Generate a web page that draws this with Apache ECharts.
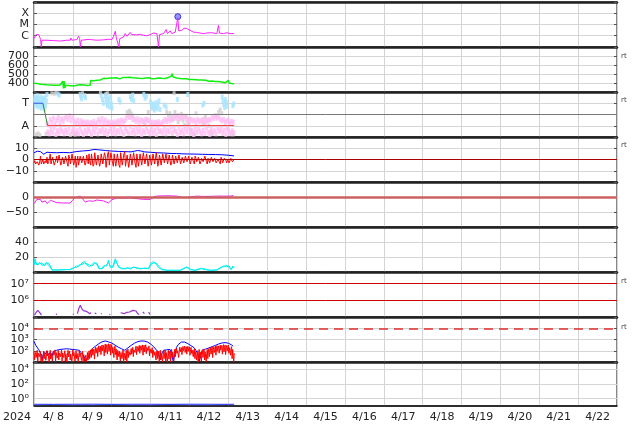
<!DOCTYPE html>
<html>
<head>
<meta charset="utf-8">
<script src="https://cdn.jsdelivr.net/npm/echarts@6/dist/echarts.min.js"></script>
<style>
html,body{margin:0;padding:0;background:#fff;}
#chart{width:634px;height:424px;}
</style>
</head>
<body>
<div id="chart"></div>
<script>
// ================= DATA (time = hours since 2024-04-08 00:00) =================
const yearLabel = '2024';
const dayLabels = ['4/ 8','4/ 9','4/10','4/11','4/12','4/13','4/14','4/15','4/16','4/17','4/18','4/19','4/20','4/21','4/22'];

// tick labels
const xrayTickLabels = {'-6':'C','-5':'M','-4':'X'};
const speedTickLabels = [400,500,600,700];
const sectorTickLabels = {'270':'T','90':'A'};
const bTickLabels = {'10':'10','0':'0','-10':'−10'};
const dstTickLabels = {'0':'0','-50':'−50'};
const densTickLabels = [20,40];
const electronTickExps = [6,7];
const protonTickExps = [2,3,4];
const lowTickExps = [0,2,4];
const supDigits = ['⁰','¹','²','³','⁴','⁵','⁶','⁷','⁸','⁹'];
const sideTags = ['rt','rt','rt','rt','rt'];

// panel 1: X-ray flux
const xrayT = [0,1.4,2.9,3.5,4.1,4.5,4.9,8.0,12.1,16.2,20.3,22.4,22.8,23.6,26.5,27.5,28.2,28.6,29.2,32.7,33.7,34.7,38.8,43.0,46.0,47.1,48.1,49.1,50.2,50.8,51.6,52.4,53.0,55.3,56.3,57.4,59.4,60.4,61.5,63.5,65.6,67.6,69.7,71.8,73.8,74.8,75.9,76.9,77.5,80.0,81.6,82.4,84.1,85.1,87.2,88.2,88.8,89.4,91.3,92.7,94.4,96.4,98.5,100.5,102.6,104.7,106.7,108.8,109.8,110.8,111.9,112.9,113.9,114.5,117.0,119.1,121.1,123.6];
const xrayF = [5.6e-7,1.26e-6,1.26e-6,7.7e-7,4.6e-7,1e-7,4.0e-7,4.0e-7,3.7e-7,3.4e-7,4.0e-7,4.0e-7,6.3e-7,4.0e-7,4.6e-7,8.9e-7,5.6e-7,1e-7,4.0e-7,4.6e-7,6.3e-7,4.6e-7,4.0e-7,4.3e-7,4.9e-7,6.8e-7,4.6e-7,8.9e-7,2.5e-6,6.8e-7,5.6e-7,1e-7,5.6e-7,7.7e-7,1.55e-6,8.9e-7,1.95e-6,1.26e-6,1.55e-6,1.2e-6,1.35e-6,1.1e-6,1.0e-6,1.26e-6,1.75e-6,1.26e-6,1.55e-6,1e-7,1.26e-6,1.55e-6,3.5e-6,1.55e-6,2.7e-6,1.55e-6,2.1e-6,3.0e-6,4.0e-5,2.7e-6,3.0e-6,4.7e-6,4.4e-6,3.0e-6,2.1e-6,1.95e-6,1.75e-6,1.55e-6,1.75e-6,1.85e-6,2.7e-6,1.75e-6,2.1e-6,1.55e-6,8.5e-6,1.75e-6,1.55e-6,1.85e-6,1.55e-6,1.55e-6];
const flareT = [88.8];
const flareF = [5.0e-5];

// panel 2: solar wind speed
const speedT = [0,1,2,3,4,5,6,7,8,9,10,11,12,13,14,15,16,17,17.8,18.2,18.6,19.0,19.4,20,21,22,23,24,25,26,27,28,29,30,31,31.7,32.2,33,34,34.7,35,36,37,38,39,40,41,42,43,44,45,46,47,48,49,50,51,52,53,54,55,56,57,58,59,60,61,62,63,64,65,66,67,68,69,70,71,72,73,74,75,76,77,78,79,80,81,82,83,84,85,85.4,85.8,86,87,88,89,90,91,92,93,94,95,96,97,98,99,100,101,102,103,104,105,106,107,108,109,110,111,112,113,114,115,116,117,118,119,120,120.5,121,122,123,123.6];
const speedV = [398,402,395,390,386,388,383,385,380,382,378,380,376,379,375,378,376,374,420,340,422,345,372,370,372,368,370,366,368,372,378,382,380,384,378,356,374,372,375,376,428,432,426,436,430,440,434,445,452,458,450,460,455,448,456,445,458,450,446,455,462,468,460,472,465,452,458,448,455,446,452,460,450,444,455,448,458,452,446,458,450,462,455,448,452,460,450,456,462,468,478,505,470,474,466,455,460,450,456,448,452,446,450,440,434,438,430,436,428,434,426,432,424,430,422,420,416,422,414,418,410,416,408,412,404,402,406,428,400,398,394,396,393];

// panel 3: IMF sector (angle, deg)
const sectorT = [0,5.5,8.4,123.6];
const sectorV = [270,270,92,92];
const towardPts = [[0.2,300],[0.5,320],[0.8,280],[1.1,250],[1.4,310],[1.7,265],[2.0,295],[2.3,330],[2.6,240],[2.9,285],[3.2,305],[3.5,255],[3.8,275],[4.1,320],[4.4,230],[4.7,290],[5.0,260],[5.3,310],[5.6,245],[5.9,300],[6.2,270],[6.5,225],[6.8,315],[7.1,250],[7.6,290],[8.0,340],[14.8,345],[15.6,335],[28.5,340],[29.0,320],[29.4,305],[31.2,330],[31.8,315],[41.5,330],[42.3,300],[42.8,270],[44.0,330],[44.5,300],[45.0,270],[45.4,250],[45.9,310],[46.3,285],[46.8,240],[47.3,320],[47.8,265],[48.2,230],[52.5,300],[53.2,280],[59.5,320],[60.2,300],[61.0,335],[61.6,290],[67.8,340],[68.6,310],[69.4,325],[72.0,280],[72.6,250],[73.2,230],[73.8,265],[74.3,215],[74.9,240],[75.5,275],[76.0,225],[76.6,255],[77.2,290],[77.8,220],[80.4,255],[81.6,240],[88.5,300],[95.0,340],[104.2,255],[105.0,270],[116.2,320],[116.7,290],[117.2,260],[117.7,235],[118.2,300],[118.7,275],[119.1,245],[122.8,250],[123.3,265]];
const awayHi = [110,95,140,120,150,105,135,155,115,145,125,150,165,140,170,130,160,125,110,135,100,130,115,120,105,120,95,115,110,125,100,118,140,120,148,115,135,110,120,95,118,105,122,112,130,115,135,120,128,150,172,155,165,140,140,125,145,118,138,130,120,142,128,135,115,120,105,118,110,122,100,115,125,140,125,148,130,138,150,165,150,172,145,160,155,168,140,138,120,142,128,135,115,140,125,132,118,145,122,130,140,135,158,145,165,150,160,140,130,140,115,128,135,110,125,118];
const awayLo = [40,25,60,35,75,20,50,30,65,45,25,55,35,70,20,45,60,30,50,25,70,40,20,55,30,65,45,20,60,35,75,25,50,40,65,30,55,20,45,70,30,60,25,50,35,75,40,20,65,45,30,80,35,55,25,70,40,60,20,50,35,75,45,25,60,30,55,20,70,40,50,30,65,25,55,40,80,30,60,45,20,70,35,55,25,65,40,75,30,50,20,60,35,70,45,25,55,30,75,40,20,65,35,50,25,70,45,60,30,55,20,65,40,25,50,35];
const awayStart = 8;
const grayPts = [[1.5,20],[2.5,30],[3.6,15],[7.5,25],[11,350],[12.5,345],[13.5,355],[24.5,25],[25.5,18],[26.5,30],[30,350],[41,352],[44.5,345],[45.5,350],[57.5,200],[58.5,180],[59,210],[60,190],[61,170],[67.5,120],[68.5,100],[69.5,140],[70.5,200],[82,200],[83,175],[84,190],[85,160],[86,140],[86.5,350],[87,200],[88,170],[89,120],[90,150],[91,185],[92,130],[93,95],[94,165],[95,110],[96,140],[97,60],[98,30],[99,20],[100,190],[104,140],[105,110],[106,160],[107,130],[108,90],[109,40],[110,25],[112,175],[114,200],[115,220],[116,190],[120,60],[122,35],[123,20]];

// panel 4: IMF Bt (blue) and Bz (red), nT
const btT = [0,2,4,6,8,10,14,18,22,26,30,34,37,40,44,48,52,56,60,62,64,66,68,72,76,80,84,88,92,96,100,104,108,112,116,120,123.5];
const btV = [5.9,7.4,7.0,4.7,6.5,6.2,6.0,6.3,6.0,7.0,7.6,8.0,8.9,8.6,8.0,7.5,7.2,7.0,6.8,7.4,8.0,7.6,6.8,6.4,6.0,5.8,5.4,5.3,5.0,4.9,4.8,4.6,4.5,4.4,4.2,3.8,3.2];
const bzHourly = [-3,-4,-2,-5,3,-3,-4,-1,2,-2, 5,-3,1,-4,3,-2,4,-3,0,-5, 2,-6,1,-3,4,-2,-7,3,-4,2, -2,4,-3,1,5,-5,6,-4,5,-6, 4,-3,6,-5,3,-6,7,-4,5,-6, 6,-5,4,-7,6,-4,7,-5,5,-6, 6,-4,5,-7,6,-5,4,-6,6,-3, 5,-5,4,-6,6,-4,5,-5,4,-6, 5,-4,6,-5,4,-3,5,-4,3,-4, 3,-3,2,-4,3,-2,2,-3,3,-4, 1,-3,2,-2,1,-3,2,-4,1,-2, 2,-3,0,-2,1,-4,0,-2,1,-3, 0,-2,1,-1];
const bzHalf = [-1,-5,-3,-2,-4,0,-5,-3,-4,1, -4,2,-5,0,-3,4,-5,2,-4,3, -3,4,-4,5,-5,3,-2,-5,3,-3, 3,-5,4,-4,-2,5,-6,6,-5,4, -6,5,-4,6,-7,5,-5,6,-3,5, -6,5,-5,6,-5,5,-6,4,-7,5, -5,6,-4,5,-6,5,-5,6,-4,5, -6,4,-5,5,-4,6,-6,4,-5,5, -3,5,-4,4,-5,4,-4,3,-3,4, -4,2,-3,3,-2,3,-4,2,-2,3, -2,2,-4,1,-2,3,-2,1,-3,2, -2,1,-3,0,-2,2,-3,1,-1,0, -3,1,-2,0];

// panel 5: Dst, nT
const dstT = [0,1.8,3.9,4.9,7.0,8.0,10.1,14.2,18.3,22.4,23.4,25.5,28.6,29.6,31.7,33.7,36.8,38.8,43.0,46.0,47.1,48.1,51.2,55,59.4,63,67.6,71.8,73.8,75.9,80,84.1,88.2,92.3,96.4,100.5,104,108.8,112.9,117,121.1,123.2];
const dstV = [-22,-8,-8,-17,-13,-22,-11,-19,-20,-20,-13,-2,3,0,-17,-13,-14,-10,-13,-20,-24,-9,-3,-4,-3,-5,-8,-8,0,3,4,4,3,-2,0,3,2,2,3,3,3,5];

// panel 6: density (two traces)
const densT = [0,0.6,1.4,2.2,3.5,4.9,6.4,7.6,9.0,10.1,11.1,13.1,16.2,19.3,22.4,24.5,26.1,27.5,29.6,31.1,32.7,34.3,35.8,37.2,38.8,40.3,41.9,43.4,45.0,46.0,47.1,48.7,50.2,51.2,52.2,54.3,56.3,57.8,59.4,61.5,63.1,65.6,68.7,70.7,72.2,73.8,75.5,76.9,78.9,82.0,86.1,90.3,92.3,94.4,96.4,99.4,101.3,103.4,105.7,108.8,112.9,115.0,117.0,119.1,120.5,121.7,122.8,123.6];
const densA = [11,17.8,12,9,13,9,10,13,9,11,3,2.5,3,3.5,3,5,8,7,12,14,9,7,10,13,10,4,5,9,8,16,6,8,17.8,12,6,5,4,6,4,7,5,5,4.5,5,12,14,10,6,3,2.5,2,2.5,5,6,3,2.5,4,4.5,3,2.5,2.5,6,7,9,6,3,8,6];
const densB = [9,14,10,12,11,12,8,11,12,8,2.5,3,2.5,3,3.5,6,6,9,10,12,11,9,8,11,12,5,4,7,10,13,8,6,15,14,8,4,5,5,5,6,6,4,5.5,4,10,12,12,8,4,2,2.5,2,4,7,4,2,3,5,4,2,3,5,8,7,8,4,6,7];

// panel 7: electron flux
const electronT = [0.3,1.2,2.4,3.2,4.0,4.6,5,13.5,14.2,15,24,24.5,25,26.8,27.8,28.6,29.5,30.5,31.5,32.3,33.3,34.3,35.3,36,37.5,38.5,39,41.3,41.8,43,46.6,47.1,48,53.5,54.6,56.0,57.3,59,60,61,62,63,64,65,66,67.2,68.2,69,70.8,71.6];
const electronV = [1.3e5,1.8e5,2.5e5,2.3e5,1.6e5,1.3e5,null,1.5e5,1.45e5,null,1.4e5,1.5e5,null,1.6e5,3.5e5,5e5,3.2e5,2.4e5,2.8e5,2.2e5,2.5e5,1.6e5,1.8e5,null,1.7e5,1.6e5,null,1.6e5,1.5e5,null,1.45e5,1.4e5,null,1.8e5,2.0e5,1.6e5,1.9e5,2.0e5,2.3e5,2.5e5,2.0e5,2.3e5,1.6e5,1.4e5,null,2.0e5,1.6e5,null,2.0e5,1.4e5];
const electronLevels = [1e6,1e7];

// panel 8: particle flux, blue and red (hourly; red sampled three times per hour)
const pBlue = [700,320,250,120,60,15,80,50,100,40, 70,30,90,60,110,80,130,100,140,120, 150,110,140,120,130,100,120,90,110,70, 60,30,12,10,40,80,150,200,260,330, 420,520,620,700,740,700,620,560,480,400, 320,260,210,170,150,130,110,130,180,240, 300,380,470,560,640,700,740,750,730,680, 600,500,400,300,220,150,100,40,15,60, 110,130,120,140,130,120,12,50,200,350, 500,600,620,590,520,430,350,280,230,180, 150,60,12,40,120,150,140,160,180,200, 230,260,300,350,400,450,490,520,530,510, 470,400,330,250];
const pRedHi = [90,70,110,60,85,40,95,75,100,65, 110,80,95,120,70,105,85,115,90,100, 80,110,95,70,120,85,100,75,110,60, 90,50,40,70,100, 120,160,140,210,190,280,250,330,300,400,360,420,380,350,300,260,200,160, 130,90,120,80,110,140,120, 160,200,180,260,230,300,280,330,310,340,300,270,220,190,150,120,100, 90,110,70,100,120,80,110,95,130,100, 140,170,150,210,190,240,260,230,250,220,200,170,150,120, 100,130,90,120,140,110,130, 160,190,230,210,260,290,270,320,300,350,330,300,320,270,230,180];
const pRedLo = [15,25,10,30,12,10,20,14,35,10, 18,12,40,10,22,15,30,10,25,12, 10,28,15,10,35,12,20,10,30,14, 10,12,10,15,20, 25,40,18,60,30,80,45,100,35,70,50,90,40,60,25,45,15,30, 12,20,10,15,10,25,40, 50,30,70,45,90,60,110,40,80,55,100,35,60,25,40,15,20, 10,15,10,20,12,10,18,10,25,12, 30,60,25,80,45,100,70,50,90,40,60,30,20,15, 10,20,12,25,15,10,20, 30,50,25,70,40,90,60,110,50,80,45,100,60,40,20,10];
const pRedMid = [45,35,60,25,50,20,55,30,60,35, 60,40,55,70,35,60,45,65,50,55, 40,60,50,35,70,45,55,40,60,30, 45,25,20,35,55, 70,90,80,120,110,160,140,190,170,230,200,240,220,200,170,150,110,90, 70,50,65,45,60,80,70, 90,120,100,150,130,170,160,190,180,200,170,150,120,110,80,65,55, 50,60,40,55,70,45,60,50,75,55, 80,100,85,120,110,140,150,130,145,125,115,95,85,65, 55,75,50,70,80,60,75, 90,110,130,120,150,170,160,190,175,200,190,175,185,150,130,60];
const protonLevel = [1e4];

// panel 9: low flux
const lowT = [0,12,24,36,48,60,72,84,96,108,120,123.6];
const lowV = [0.15,0.16,0.15,0.15,0.16,0.15,0.15,0.16,0.15,0.15,0.16,0.15];
const lowV2 = [0.19,0.18,0.19,0.2,0.18,0.19,0.19,0.18,0.2,0.19,0.18,0.19];

// ================= CHART =================
const FONT = 'DejaVu Sans';
const TXT = '#222';
const GRIDC = '#d4d4d4';
const L = 34, R = 17;
const tops = [2,47,92,137,182,227,272,317,362];
const hts = [45,45,45,45,45,45,45,45,44];

const pairs = (ts, vs) => ts.map((t,k) => [t, vs[k] === null ? '-' : vs[k]]);
const supFmt = exps => v => { const e = Math.round(Math.log10(v)); return exps.includes(e) ? '10' + supDigits[e] : ''; };

const ycfg = [
  {type:'log', min:1e-7, max:1e-3, fmt:v => xrayTickLabels[String(Math.round(Math.log10(v)))] || ''},
  {type:'value', min:300, max:800, interval:100, fmt:v => speedTickLabels.includes(v) ? String(v) : ''},
  {type:'value', min:0, max:360, interval:90, fmt:v => sectorTickLabels[String(v)] || ''},
  {type:'value', min:-20, max:20, interval:10, fmt:v => bTickLabels[String(v)] || ''},
  {type:'value', min:-100, max:50, interval:50, fmt:v => dstTickLabels[String(v)] || ''},
  {type:'value', min:0, max:60, interval:20, fmt:v => densTickLabels.includes(v) ? String(v) : ''},
  {type:'log', min:1e5, max:5e7, fmt:supFmt(electronTickExps)},
  {type:'log', min:1e1, max:1e5, fmt:supFmt(protonTickExps)},
  {type:'log', min:1e-1, max:1e5, fmt:supFmt(lowTickExps), noSplit:true}
];

const grid = tops.map((t,i) => ({left:L, right:R, top:t, height:hts[i], show:true, borderColor:'#111', borderWidth:1}));

const xAxis = tops.map((t,i) => ({
  gridIndex:i, type:'value', min:0, max:360, interval:24, position:'top',
  axisLine:{show:true, onZero:false, lineStyle:{color:'#222', width:2.5}},
  axisTick:{show:false}, axisLabel:{show:false},
  splitLine:{show:true, lineStyle:{color:GRIDC, width:1}}
}));
xAxis.push({
  gridIndex:8, type:'category', data:dayLabels, boundaryGap:true, position:'bottom',
  axisLine:{show:true, onZero:false, lineStyle:{color:'#111', width:1.5}},
  axisTick:{show:false}, splitLine:{show:false},
  axisLabel:{color:TXT, fontSize:11, fontFamily:FONT, margin:6, interval:0}
});

const yAxis = [];
ycfg.forEach((c,i) => {
  const base = {gridIndex:i, type:c.type, min:c.min, max:c.max};
  if (c.type === 'log') base.logBase = 10;
  if (c.interval) base.interval = c.interval;
  yAxis.push(Object.assign({}, base, {
    position:'left',
    axisLine:{show:false},
    axisTick:{show:!c.noSplit, inside:true, length:3, lineStyle:{color:'#555'}},
    splitLine:{show:!c.noSplit, lineStyle:{color:GRIDC, width:1}},
    axisLabel:{color:TXT, fontSize:11, fontFamily:FONT, margin:5, formatter:c.fmt, showMinLabel:true, showMaxLabel:true}
  }));
  yAxis.push(Object.assign({}, base, {
    position:'right',
    axisLine:{show:false},
    axisTick:{show:!c.noSplit, inside:true, length:3, lineStyle:{color:'#555'}},
    splitLine:{show:false}, axisLabel:{show:false}
  }));
});
const yi = i => 2*i;

const line = (i, data, color, width, extra) => Object.assign({
  type:'line', xAxisIndex:i, yAxisIndex:yi(i), data:data, symbol:'none', showSymbol:false,
  lineStyle:{color:color, width:width||1}, itemStyle:{color:color}, animation:false, silent:true, connectNulls:false
}, extra || {});
const hline = (vals, color, width, type) => ({
  silent:true, symbol:'none', animation:false, label:{show:false},
  lineStyle:{color:color, width:width, type:type||'solid'},
  data:vals.map(v => ({yAxis:v}))
});
const scat = (i, data, color, size) => ({
  type:'scatter', xAxisIndex:i, yAxisIndex:yi(i), data:data, symbol:'rect', symbolSize:size,
  itemStyle:{color:color}, animation:false, silent:true
});

const series = [];
// panel 1
series.push(line(0, pairs(xrayT, xrayF), '#ff22ff', 1));
series.push({type:'scatter', xAxisIndex:0, yAxisIndex:yi(0), data:pairs(flareT, flareF), symbol:'circle', symbolSize:6,
  itemStyle:{color:'#7a7aff', borderColor:'#1a1acc', borderWidth:1}, animation:false, silent:true});
// panel 2
series.push(line(1, pairs(speedT, speedV), '#11ee11', 1.5));
// panel 3
series.push(scat(2, grayPts, '#cfcfcf', [3,4]));
series.push(scat(2, awayHi.map((v,k) => [awayStart + k, v]), '#ffbdf2', [3,5]));
series.push(scat(2, awayLo.map((v,k) => [awayStart + k + 0.5, v]), '#ffbdf2', [3,5]));
series.push(scat(2, towardPts, '#a8e4ff', [3,5]));
const sec = pairs(sectorT, sectorV);
series.push(line(2, sec.slice(0,2), '#3355ee', 1.2, {markLine:hline([180], '#777', 1)}));
series.push(line(2, sec.slice(1,3), '#338833', 1));
series.push(line(2, sec.slice(2,4), '#ee4444', 1));
// panel 4
series.push(line(3, pairs(btT, btV), '#0000ff', 1));
const bzPts = [];
bzHourly.forEach((v,k) => { bzPts.push([k, v]); bzPts.push([k + 0.5, bzHalf[k]]); });
series.push(line(3, bzPts, '#ff0000', 1, {markLine:hline([0], '#aa0000', 1)}));
// panel 5
series.push(line(4, pairs(dstT, dstV), '#ee22ee', 1, {markLine:hline([0], '#cc6060', 2.5)}));
// panel 6
series.push(line(5, pairs(densT, densB), '#00eeee', 1));
series.push(line(5, pairs(densT, densA), '#00eeee', 1));
// panel 7
series.push(line(6, pairs(electronT, electronV), '#9933cc', 1.2, {markLine:hline(electronLevels, '#cc0000', 1)}));
// panel 8
series.push(line(7, pBlue.map((v,k) => [k, v]), '#0000ff', 1));
const redPts = [];
pRedHi.forEach((v,k) => { redPts.push([k, v]); redPts.push([k + 0.33, pRedLo[k]]); redPts.push([k + 0.67, pRedMid[k]]); });
series.push(line(7, redPts, '#ff0000', 1, {markLine:hline(protonLevel, '#e03030', 1.5, [9,6])}));
// panel 9
series.push(line(8, pairs(lowT, lowV2), '#a0a0ff', 1));
series.push(line(8, pairs(lowT, lowV), '#3344ff', 1, {markLine:hline([1,100,1e4], GRIDC, 1)}));

const rtTops = [52.5, 97, 141.5, 278, 323.5];
const graphic = [{type:'text', left:3, top:412, style:{text:yearLabel, font:'11px "DejaVu Sans"', fill:TXT}}]
  .concat(sideTags.map((t,k) => ({type:'text', left:621, top:rtTops[k], style:{text:t, font:'7px "DejaVu Sans"', fill:'#444'}})));

const chart = echarts.init(document.getElementById('chart'), null, {renderer:'canvas'});
chart.setOption({animation:false, backgroundColor:'#fff', grid, xAxis, yAxis, series, graphic});
</script>
</body>
</html>
